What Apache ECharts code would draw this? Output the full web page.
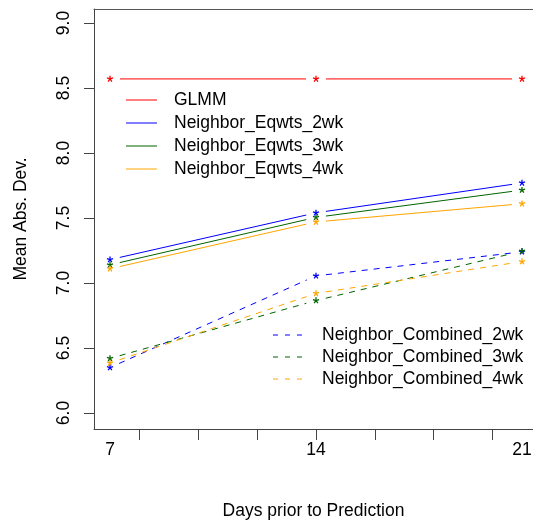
<!DOCTYPE html>
<html>
<head>
<meta charset="utf-8">
<script src="https://cdn.jsdelivr.net/npm/echarts@6/dist/echarts.min.js"></script>
<style>
html, body { margin: 0; padding: 0; background: #fff; }
#chart { width: 533px; height: 525px; }
</style>
</head>
<body>
<div id="chart"></div>
<script>
// data
const days = [7, 14, 21];
const glmm = [8.57, 8.57, 8.57];
const eqwts2wk = [7.18, 7.54, 7.77];
const eqwts3wk = [7.14, 7.505, 7.715];
const eqwts4wk = [7.11, 7.47, 7.61];
const combined2wk = [6.35, 7.055, 7.24];
const combined3wk = [6.42, 6.865, 7.245];
const combined4wk = [6.385, 6.92, 7.165];
const yTicks = [6.0, 6.5, 7.0, 7.5, 8.0, 8.5, 9.0];
const xTicks = [8, 10, 12, 14, 16, 18, 20];
const xLabels = [7, 14, 21];

const lines = [
    { name: 'GLMM', values: glmm, color: '#ff0000', dashed: false },
    { name: 'Neighbor_Eqwts_2wk', values: eqwts2wk, color: '#0000ff', dashed: false },
    { name: 'Neighbor_Eqwts_3wk', values: eqwts3wk, color: '#006400', dashed: false },
    { name: 'Neighbor_Eqwts_4wk', values: eqwts4wk, color: '#ffa500', dashed: false },
    { name: 'Neighbor_Combined_2wk', values: combined2wk, color: '#0000ff', dashed: true },
    { name: 'Neighbor_Combined_3wk', values: combined3wk, color: '#006400', dashed: true },
    { name: 'Neighbor_Combined_4wk', values: combined4wk, color: '#ffa500', dashed: true },
];

const FONT = 'Liberation Sans, Arial, sans-serif';
const FS = 17.5;
const GAP = 10; // R type="b" leaves a gap around each point
const STAR_R = 3.2;
const X_MIN = 6.456, X_MAX = 21.374; // plot box runs off the right edge

const solidIcon = 'path://M0,0h0.01v0.01h-0.01zM43,14h0.01v0.01h-0.01zM0,6.5h31v1h-31z';
const dashIcon = 'path://M0,0h0.01v0.01h-0.01zM44,14h0.01v0.01h-0.01zM0,6.5h5v1h-5zM12,6.5h5v1h-5zM24,6.5h5v1h-5z';

// type="b": star at each point, line segments cut short on both ends
function makeRender(line) {
    return function (params, api) {
        const i = params.dataIndex;
        const p = api.coord([days[i], line.values[i]]);
        const children = [];
        for (let k = 0; k < 5; k++) {
            const a = -Math.PI / 2 + k * 2 * Math.PI / 5;
            children.push({
                type: 'line',
                shape: { x1: p[0], y1: p[1], x2: p[0] + STAR_R * Math.cos(a), y2: p[1] + STAR_R * Math.sin(a) },
                style: { stroke: line.color, lineWidth: 1.3 }
            });
        }
        if (i < days.length - 1) {
            const q = api.coord([days[i + 1], line.values[i + 1]]);
            const dx = q[0] - p[0], dy = q[1] - p[1];
            const len = Math.sqrt(dx * dx + dy * dy);
            const ux = dx / len, uy = dy / len;
            children.push({
                type: 'line',
                shape: {
                    x1: p[0] + ux * GAP, y1: p[1] + uy * GAP,
                    x2: q[0] - ux * GAP, y2: q[1] - uy * GAP
                },
                style: { stroke: line.color, lineWidth: 1, lineDash: line.dashed ? [6, 6] : null }
            });
        }
        return { type: 'group', children: children };
    };
}

function legendItem(l, icon) {
    return { name: l.name, icon: icon, itemStyle: { color: l.color, borderWidth: 0, opacity: 1 } };
}

const chart = echarts.init(document.getElementById('chart'));
chart.setOption({
    animation: false,
    backgroundColor: '#fff',
    textStyle: { fontFamily: FONT },
    grid: { left: 94, top: 9, bottom: 96, right: 0, outerBoundsMode: 'none', containLabel: false },
    legend: [
        {
            orient: 'vertical', left: 126, top: 91, padding: 0,
            itemWidth: 43, itemHeight: 14, itemGap: 5,
            selectedMode: false,
            textStyle: { fontSize: FS, color: '#000', fontFamily: FONT },
            data: lines.slice(0, 4).map(l => legendItem(l, solidIcon))
        },
        {
            orient: 'vertical', left: 273, top: 326, padding: 0,
            itemWidth: 44, itemHeight: 14, itemGap: 4,
            selectedMode: false,
            textStyle: { fontSize: FS, color: '#000', fontFamily: FONT },
            data: lines.slice(4).map(l => legendItem(l, dashIcon))
        }
    ],
    xAxis: [
        {
            type: 'value', min: X_MIN, max: X_MAX, position: 'bottom',
            name: 'Days prior to Prediction', nameLocation: 'middle', nameGap: 73,
            nameTextStyle: { fontSize: FS, color: '#000', fontFamily: FONT },
            axisLine: { show: true, lineStyle: { color: '#444' } },
            axisTick: { show: true, length: 11, customValues: xTicks, lineStyle: { color: '#444' } },
            axisLabel: { customValues: xLabels, fontSize: FS, color: '#000', margin: 12, fontFamily: FONT },
            splitLine: { show: false }
        },
        {
            // top edge of the plot box
            type: 'value', min: X_MIN, max: X_MAX, position: 'top',
            axisLine: { show: true, lineStyle: { color: '#555' } },
            axisTick: { show: false },
            axisLabel: { show: false },
            splitLine: { show: false }
        }
    ],
    yAxis: {
        type: 'value', min: 5.877, max: 9.108,
        name: 'Mean Abs. Dev.', nameLocation: 'middle', nameGap: 64,
        nameTextStyle: { fontSize: FS, color: '#000', fontFamily: FONT },
        axisLine: { show: true, lineStyle: { color: '#444' } },
        axisTick: { show: true, length: 10, customValues: yTicks, lineStyle: { color: '#444' } },
        axisLabel: {
            customValues: yTicks, rotate: 90, fontSize: FS, color: '#000', margin: 21, fontFamily: FONT,
            formatter: v => v.toFixed(1)
        },
        splitLine: { show: false }
    },
    series: lines.map(l => ({
        type: 'custom',
        name: l.name,
        clip: false,
        itemStyle: { color: l.color },
        data: days.map((d, i) => [d, l.values[i]]),
        renderItem: makeRender(l)
    }))
});
</script>
</body>
</html>
